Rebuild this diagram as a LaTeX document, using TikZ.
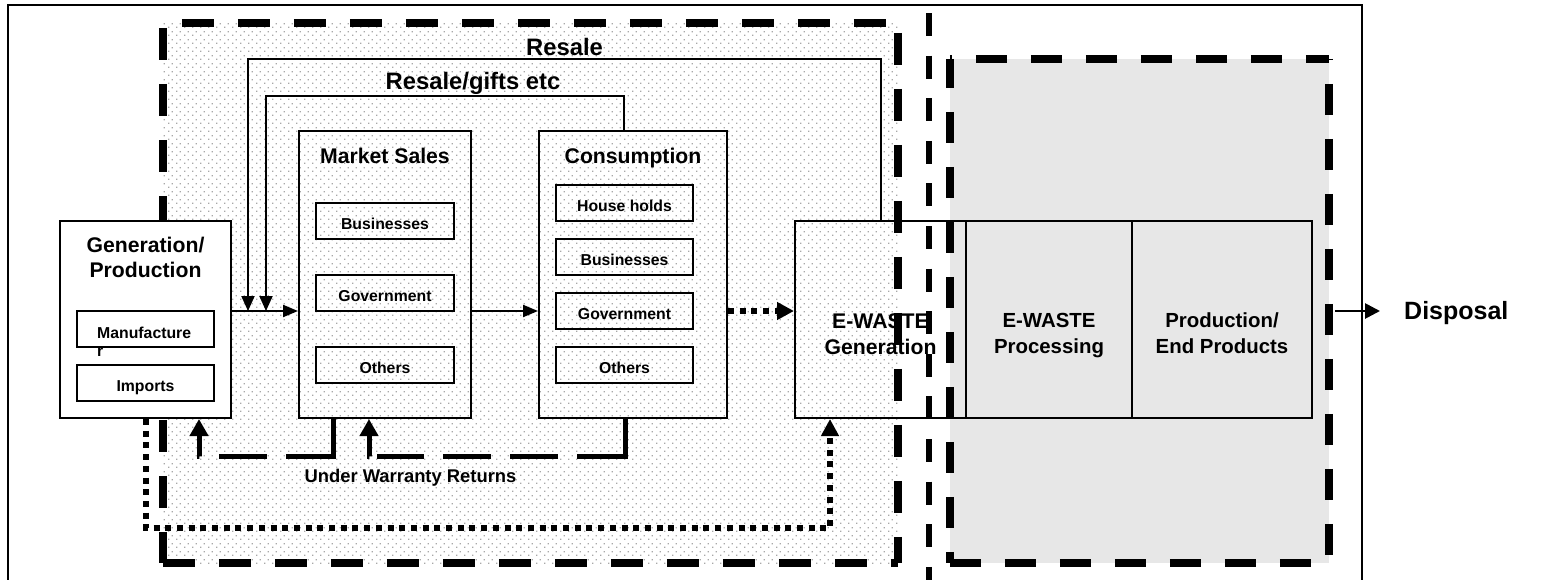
\documentclass[tikz,border=0pt]{standalone}
\usepackage{fontspec}
\setmainfont{Liberation Sans}
\usetikzlibrary{arrows.meta,patterns}
\pgfdeclarepatternformonly{edots}{\pgfqpoint{0pt}{0pt}}{\pgfqpoint{8pt}{8pt}}{\pgfqpoint{8pt}{8pt}}{%
  \pgfpathrectangle{\pgfqpoint{0pt}{0pt}}{\pgfqpoint{1.5pt}{1.5pt}}%
  \pgfpathrectangle{\pgfqpoint{4pt}{4pt}}{\pgfqpoint{1.5pt}{1.5pt}}%
  \pgfusepath{fill}}
\definecolor{dotgray}{HTML}{A8A8A8}
\definecolor{regiongray}{HTML}{E7E7E7}
\begin{document}
\begin{tikzpicture}[x=1pt,y=-1pt,
  box/.style={draw, line width=2pt, inner sep=0pt},
  subbox/.style={box, minimum width=137pt, minimum height=36pt,
    font=\fontsize{15.8}{18}\selectfont\bfseries, text height=17pt, text depth=0pt},
  subtext/.style={inner sep=0pt, font=\fontsize{15.8}{18}\selectfont\bfseries},
  titletext/.style={inner sep=0pt, align=center, font=\fontsize{21.2}{25.5}\selectfont\bfseries},
  ewtext/.style={inner sep=0pt, align=center, font=\fontsize{20.4}{26}\selectfont\bfseries},
  looplabel/.style={inner sep=0pt, font=\fontsize{23.8}{28}\selectfont\bfseries},
  bigdash/.style={line width=8pt, dash pattern=on 32pt off 24pt},
  graydash/.style={line width=8pt, dash pattern=on 31pt off 24pt},
  midline/.style={line width=6pt, dash pattern=on 23pt off 19.6pt},
  tarr/.style={line width=2pt, -{Triangle[length=15pt,width=12pt]}},
  darr/.style={line width=2pt, -{Triangle[length=15pt,width=13pt]}},
  warr/.style={line width=5pt, -{Triangle[length=17pt,width=18pt]}},
  dotarr/.style={line width=6pt, dash pattern=on 6pt off 5.7pt, -{Triangle[length=17pt,width=17pt]}},
  disparr/.style={line width=2.7pt, -{Triangle[length=15pt,width=15pt]}}
]
\useasboundingbox (0,0) rectangle (1545,579);
\clip (0,0) rectangle (1545,579);

% outer frame
\coordinate (frameTL) at (8,5);
\coordinate (frameTR) at (1362,5);
\draw[line width=2pt] (8,620) -- (frameTL) -- (frameTR) -- (1362,620);

% regions
\node[pattern=edots, pattern color=dotgray, minimum width=735pt, minimum height=540pt, inner sep=0pt] (lreg) at (530.5,293) {};
\node[fill=regiongray, minimum width=379pt, minimum height=504pt, inner sep=0pt] (recyc) at (1139.5,311) {};

\draw[bigdash, dash phase=51pt] (lreg.north west) -- (lreg.south west);
\draw[bigdash, dash phase=37pt] (lreg.north west) -- (lreg.north east);
\draw[bigdash, dash phase=46pt] (lreg.north east) -- (lreg.south east);
\draw[bigdash] (lreg.south west) -- (lreg.south east);

\draw[graydash, dash phase=2pt] (recyc.north west) -- (recyc.south west);
\draw[graydash, dash phase=29pt] (recyc.north west) -- (recyc.north east);
\draw[graydash, dash phase=30pt] (recyc.north east) -- (recyc.south east);
\draw[graydash] (recyc.south west) -- (recyc.south east);

\coordinate (midtop) at (929,13);
\coordinate (midbot) at (929,620);
\draw[midline] (midtop) -- (midbot);

% generation / production
\node[box, fill=white, minimum width=171pt, minimum height=197pt] (gen) at (145.5,319.5) {};
\node[titletext, anchor=north] (gentitle) at (145.5,236.7) {Generation/\\Production};
\node[subbox] (manuf) at (145.5,329) {};
\node[subtext, anchor=base west] (manuftext) at (97,338) {Manufacture};
\node[subtext, anchor=base west] (manufr) at (97,356) {r};
\node[subbox] (imports) at (145.5,383) {Imports};

% market sales
\node[box, minimum width=172pt, minimum height=287pt] (ms) at (385,274.5) {};
\node[titletext, anchor=base] (mstitle) at (385,163) {Market Sales};
\node[subbox, minimum width=138pt] (msbus) at (385,221) {Businesses};
\node[subbox, minimum width=138pt] (msgov) at (385,293) {Government};
\node[subbox, minimum width=138pt] (msoth) at (385,365) {Others};

% consumption
\node[box, minimum width=188pt, minimum height=287pt] (cons) at (633,274.5) {};
\node[titletext, anchor=base] (constitle) at (633,163) {Consumption};
\node[subbox] (chh) at (624.5,203) {House holds};
\node[subbox] (cbus) at (624.5,257) {Businesses};
\node[subbox] (cgov) at (624.5,311) {Government};
\node[subbox] (coth) at (624.5,365) {Others};

% e-waste row
\node[box, minimum width=171pt, minimum height=197pt] (ewgen) at (880.5,319.5) {};
\node[box, minimum width=166pt, minimum height=197pt] (ewproc) at (1049,319.5) {};
\node[box, minimum width=180pt, minimum height=197pt] (ewprod) at (1222,319.5) {};
\node[titletext, font=\fontsize{21.2}{26}\selectfont\bfseries, anchor=north] (ewgentext) at (880.5,313) {E-WASTE\\Generation};
\node[ewtext, anchor=north] (ewproctext) at (1049,313) {E-WASTE\\Processing};
\node[ewtext, anchor=north] (ewprodtext) at (1222,313) {Production/\\End Products};

\node[inner sep=0pt, font=\fontsize{25}{30}\selectfont\bfseries, anchor=base west] (disp) at (1404,319) {Disposal};

% labels
\node[looplabel, anchor=base] (resalelbl) at (564.5,55) {Resale};
\node[looplabel, anchor=base] (giftlbl) at (473,89) {Resale/gifts etc};
\node[inner sep=0pt, font=\fontsize{18.4}{22}\selectfont\bfseries, anchor=base] (warrlbl) at (410.5,482) {Under Warranty Returns};

% helper coordinates
\coordinate (row) at (0,311);
\coordinate (resaleEnd) at (248,311);
\coordinate (giftEnd) at (266,311);
\coordinate (xgift) at (624,0);
\coordinate (xw1) at (333,0);
\coordinate (xw1b) at (199,0);
\coordinate (xw2) at (625,0);
\coordinate (xw2b) at (369,0);
\coordinate (xdot) at (830,0);

% forward flow
\draw[tarr] (gen.east |- row) -- (ms.west |- row);
\draw[tarr] (ms.east |- row) -- (cons.west |- row);
\draw[dotarr] (cons.east |- row) -- (ewgen.west |- row);
\draw[disparr, shorten <=6pt, shorten >=24pt] (recyc.east |- row) -- (disp.west |- row);

% resale loops
\draw[darr] (ewgen.north) -- (880.5,59) -- (248,59) -- (resaleEnd);
\draw[darr] (cons.north -| xgift) -- (624,96) -- (266,96) -- (giftEnd);

% warranty returns
\draw[warr, dash pattern=on 84pt off 19pt on 48pt off 20pt on 80pt] (ms.south -| xw1) -- ++(0,37) -| (gen.south -| xw1b);
\draw[warr, dash pattern=on 85pt off 19pt on 48pt off 19pt on 48pt off 19pt on 47pt off 8pt on 80pt] (cons.south -| xw2) -- ++(0,37) -| (ms.south -| xw2b);

% dotted path to e-waste generation
\draw[dotarr] (gen.south) -- ++(0,109) -| (ewgen.south -| xdot);
\end{tikzpicture}
\end{document}
